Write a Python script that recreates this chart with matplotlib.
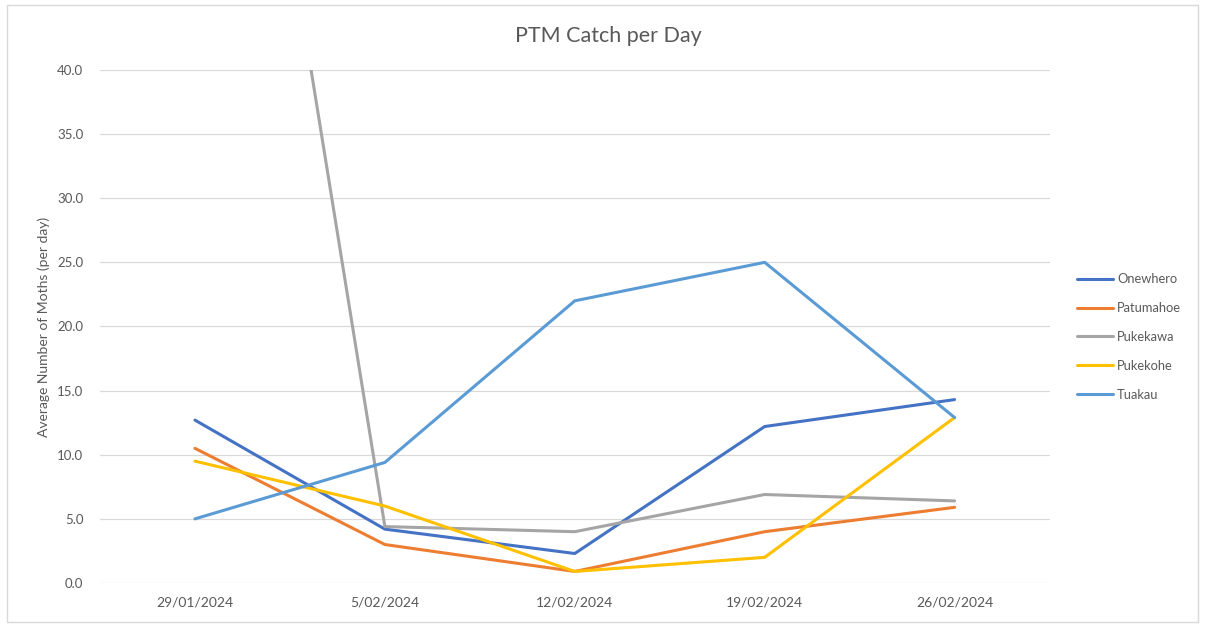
import matplotlib
matplotlib.use("Agg")
import matplotlib.pyplot as plt
import matplotlib.patches as patches
import numpy as np

plt.rcParams['font.family'] = ['Lato', 'DejaVu Sans']

# data
dates = ["29/01/2024", "5/02/2024", "12/02/2024", "19/02/2024", "26/02/2024"]
onewhero = [12.7, 4.2, 2.3, 12.2, 14.3]
patumahoe = [10.5, 3.0, 0.9, 4.0, 5.9]
pukekawa = [96.0, 4.4, 4.0, 6.9, 6.4]   # first point runs off the top of the axis
pukekohe = [9.5, 6.0, 0.9, 2.0, 12.9]
tuakau = [5.0, 9.4, 22.0, 25.0, 12.9]

series = [
    ("Onewhero", onewhero, "#4472C4"),
    ("Patumahoe", patumahoe, "#ED7D31"),
    ("Pukekawa", pukekawa, "#A5A5A5"),
    ("Pukekohe", pukekohe, "#FFC000"),
    ("Tuakau", tuakau, "#5B9BD5"),
]

text_col = "#595959"

fig = plt.figure(figsize=(12.05, 6.24), dpi=100)
ax = fig.add_axes([0.083, 0.0657, 0.788, 0.8222])

x = np.arange(len(dates))
for name, vals, col in series:
    ax.plot(x, vals, color=col, linewidth=2.2, label=name,
            solid_joinstyle='round', solid_capstyle='round')

ax.set_xlim(-0.5, len(dates) - 0.5)
ax.set_ylim(0, 40)
ax.set_yticks(np.arange(0, 41, 5))
ax.set_yticklabels([f"{v:.1f}" for v in np.arange(0, 41, 5)])
ax.set_xticks(x)
ax.set_xticklabels(dates)

ax.grid(axis='y', color='#D9D9D9', linewidth=0.9)
ax.set_axisbelow(True)
for s in ax.spines.values():
    s.set_visible(False)
ax.tick_params(axis='both', length=0, labelcolor=text_col)
ax.tick_params(axis='y', pad=12, labelsize=9.5)
ax.tick_params(axis='x', pad=10, labelsize=10)

ax.set_ylabel("Average Number of Moths (per day)", fontsize=10, color=text_col, labelpad=5)
fig.text(0.505, 0.942, "PTM Catch per Day", ha='center', va='center',
         fontsize=15.5, color=text_col)

fig.legend(loc='center left', bbox_to_anchor=(0.884, 0.46), frameon=False,
           fontsize=9.3, handlelength=2.8, handletextpad=0.3, labelspacing=1.3,
           labelcolor=text_col)

# outer chart border
fig.patches.append(patches.Rectangle((0.006, 0.004), 0.988, 0.988, transform=fig.transFigure,
                                     fill=False, edgecolor='#D9D9D9', linewidth=1))

fig.savefig("out.png", dpi=100)
